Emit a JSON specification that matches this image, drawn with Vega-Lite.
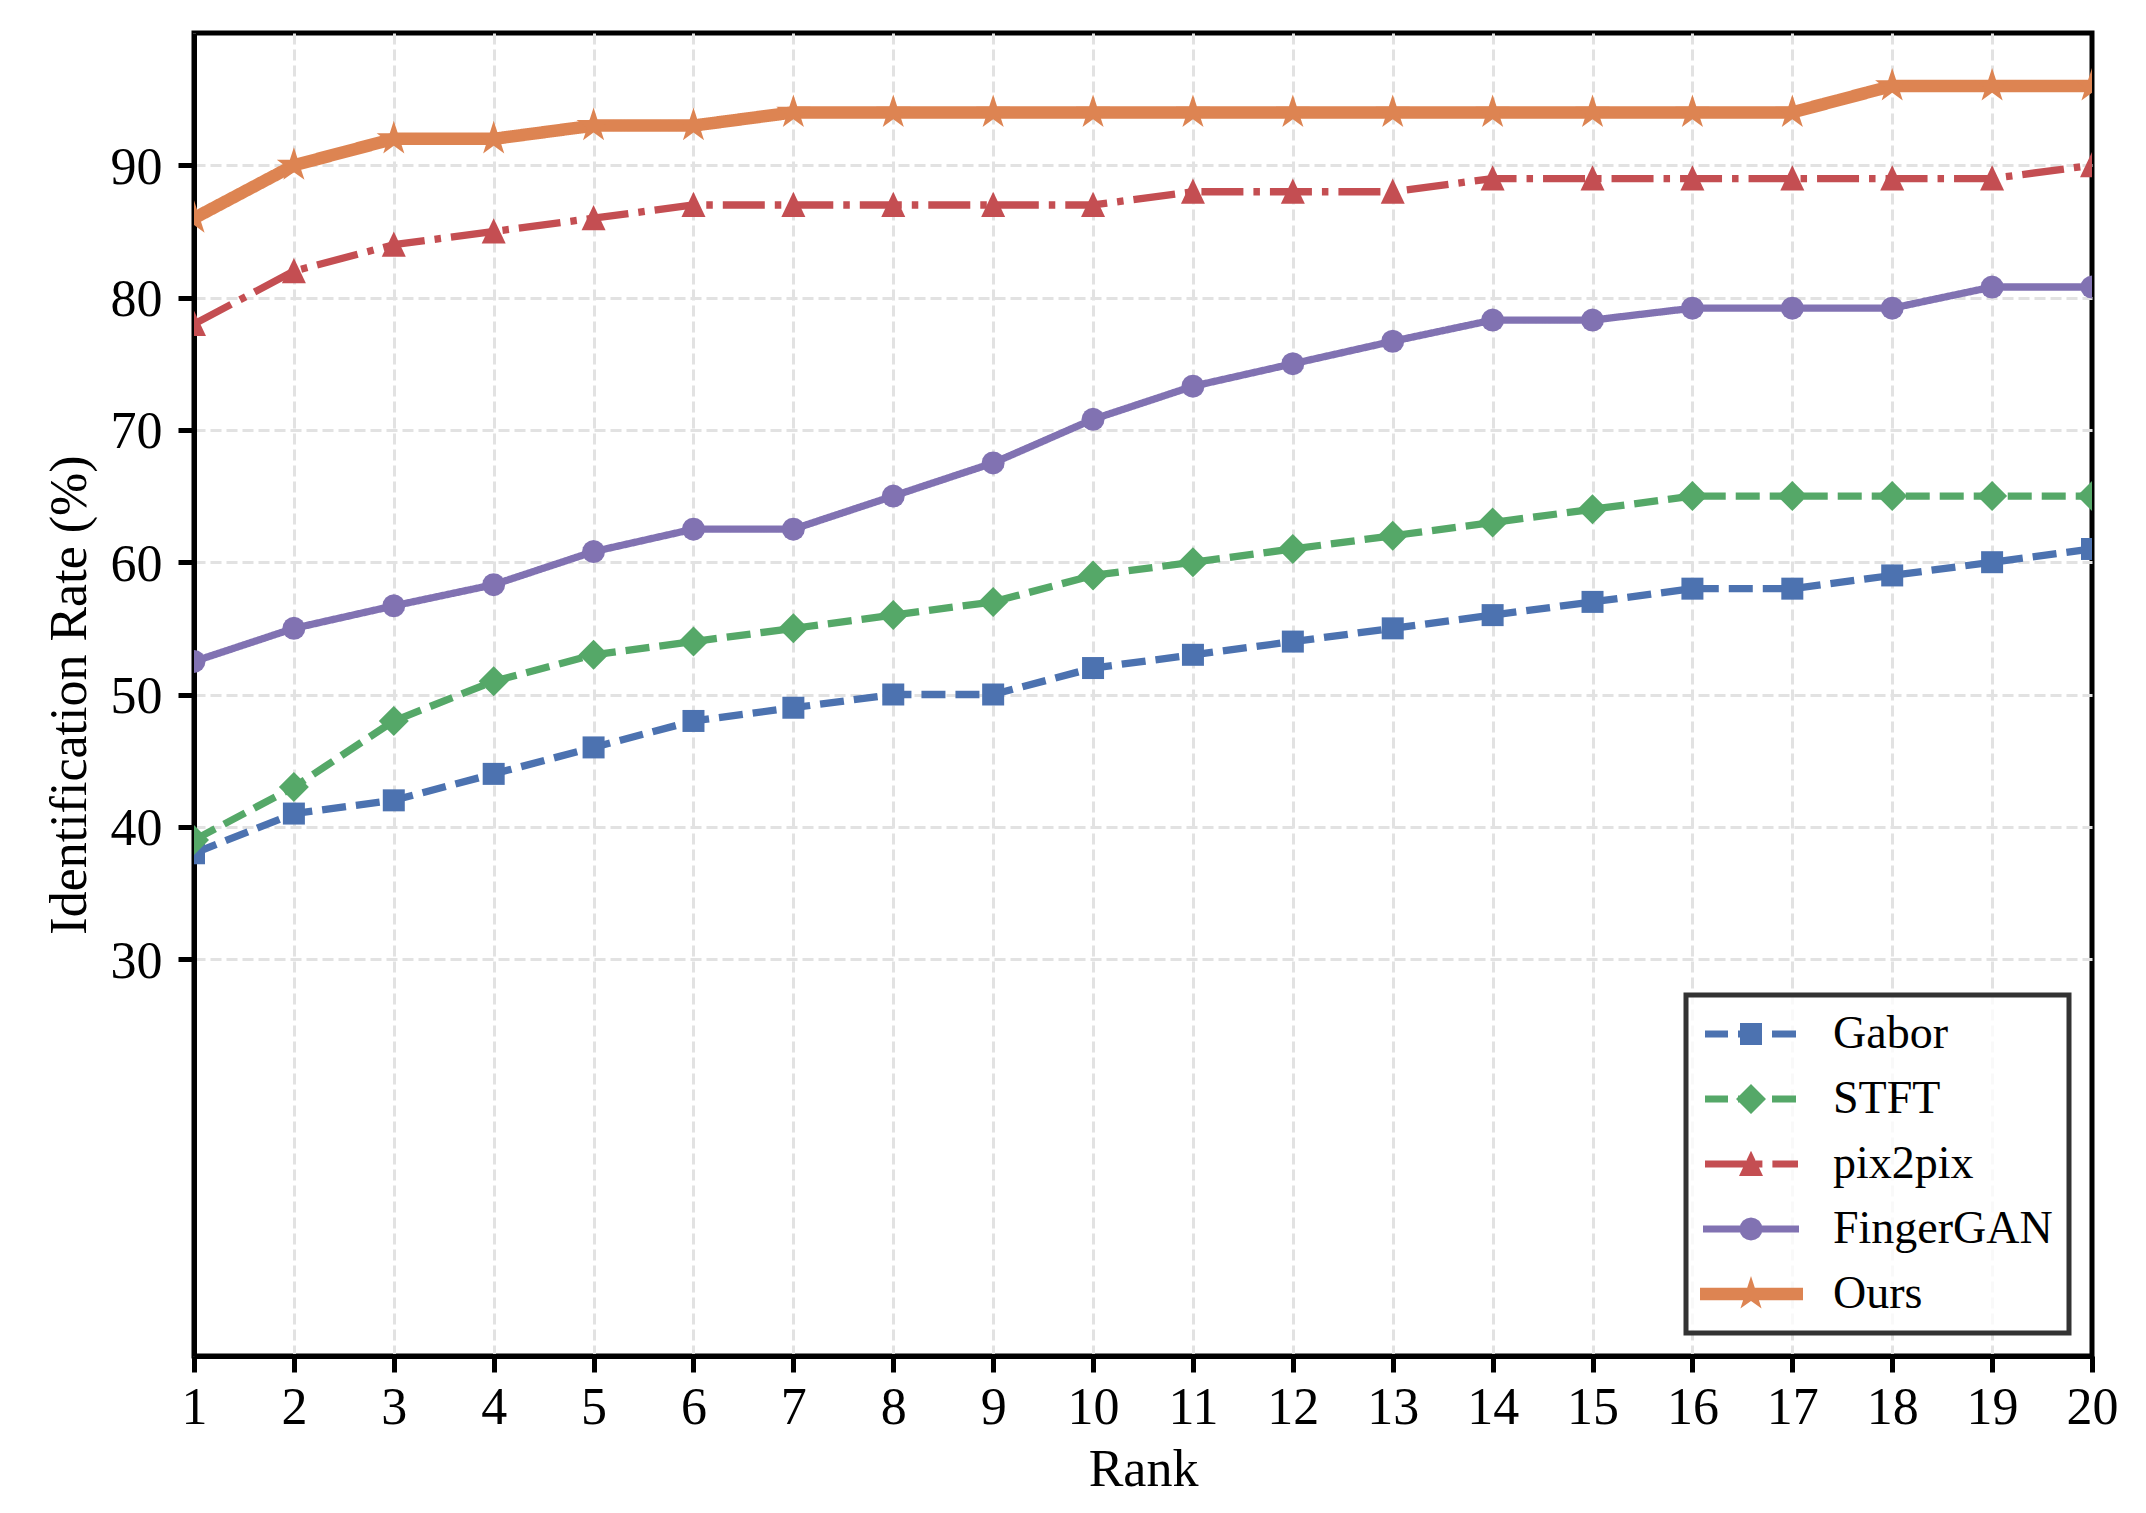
{
  "$schema": "https://vega.github.io/schema/vega-lite/v6.json",
  "autosize": {"type": "none"},
  "width": 1898,
  "height": 1323,
  "padding": {"left": 194, "top": 33, "right": 54, "bottom": 157},
  "background": "white",
  "data": {
    "values": [
      {"rank": 1, "method": "Gabor", "rate": 38}, {"rank": 2, "method": "Gabor", "rate": 41},
      {"rank": 3, "method": "Gabor", "rate": 42}, {"rank": 4, "method": "Gabor", "rate": 44},
      {"rank": 5, "method": "Gabor", "rate": 46}, {"rank": 6, "method": "Gabor", "rate": 48},
      {"rank": 7, "method": "Gabor", "rate": 49}, {"rank": 8, "method": "Gabor", "rate": 50},
      {"rank": 9, "method": "Gabor", "rate": 50}, {"rank": 10, "method": "Gabor", "rate": 52},
      {"rank": 11, "method": "Gabor", "rate": 53}, {"rank": 12, "method": "Gabor", "rate": 54},
      {"rank": 13, "method": "Gabor", "rate": 55}, {"rank": 14, "method": "Gabor", "rate": 56},
      {"rank": 15, "method": "Gabor", "rate": 57}, {"rank": 16, "method": "Gabor", "rate": 58},
      {"rank": 17, "method": "Gabor", "rate": 58}, {"rank": 18, "method": "Gabor", "rate": 59},
      {"rank": 19, "method": "Gabor", "rate": 60}, {"rank": 20, "method": "Gabor", "rate": 61},

      {"rank": 1, "method": "STFT", "rate": 39}, {"rank": 2, "method": "STFT", "rate": 43},
      {"rank": 3, "method": "STFT", "rate": 48}, {"rank": 4, "method": "STFT", "rate": 51},
      {"rank": 5, "method": "STFT", "rate": 53}, {"rank": 6, "method": "STFT", "rate": 54},
      {"rank": 7, "method": "STFT", "rate": 55}, {"rank": 8, "method": "STFT", "rate": 56},
      {"rank": 9, "method": "STFT", "rate": 57}, {"rank": 10, "method": "STFT", "rate": 59},
      {"rank": 11, "method": "STFT", "rate": 60}, {"rank": 12, "method": "STFT", "rate": 61},
      {"rank": 13, "method": "STFT", "rate": 62}, {"rank": 14, "method": "STFT", "rate": 63},
      {"rank": 15, "method": "STFT", "rate": 64}, {"rank": 16, "method": "STFT", "rate": 65},
      {"rank": 17, "method": "STFT", "rate": 65}, {"rank": 18, "method": "STFT", "rate": 65},
      {"rank": 19, "method": "STFT", "rate": 65}, {"rank": 20, "method": "STFT", "rate": 65},

      {"rank": 1, "method": "pix2pix", "rate": 78}, {"rank": 2, "method": "pix2pix", "rate": 82},
      {"rank": 3, "method": "pix2pix", "rate": 84}, {"rank": 4, "method": "pix2pix", "rate": 85},
      {"rank": 5, "method": "pix2pix", "rate": 86}, {"rank": 6, "method": "pix2pix", "rate": 87},
      {"rank": 7, "method": "pix2pix", "rate": 87}, {"rank": 8, "method": "pix2pix", "rate": 87},
      {"rank": 9, "method": "pix2pix", "rate": 87}, {"rank": 10, "method": "pix2pix", "rate": 87},
      {"rank": 11, "method": "pix2pix", "rate": 88}, {"rank": 12, "method": "pix2pix", "rate": 88},
      {"rank": 13, "method": "pix2pix", "rate": 88}, {"rank": 14, "method": "pix2pix", "rate": 89},
      {"rank": 15, "method": "pix2pix", "rate": 89}, {"rank": 16, "method": "pix2pix", "rate": 89},
      {"rank": 17, "method": "pix2pix", "rate": 89}, {"rank": 18, "method": "pix2pix", "rate": 89},
      {"rank": 19, "method": "pix2pix", "rate": 89}, {"rank": 20, "method": "pix2pix", "rate": 90},

      {"rank": 1, "method": "FingerGAN", "rate": 52.5}, {"rank": 2, "method": "FingerGAN", "rate": 55},
      {"rank": 3, "method": "FingerGAN", "rate": 56.7}, {"rank": 4, "method": "FingerGAN", "rate": 58.3},
      {"rank": 5, "method": "FingerGAN", "rate": 60.8}, {"rank": 6, "method": "FingerGAN", "rate": 62.5},
      {"rank": 7, "method": "FingerGAN", "rate": 62.5}, {"rank": 8, "method": "FingerGAN", "rate": 65},
      {"rank": 9, "method": "FingerGAN", "rate": 67.5}, {"rank": 10, "method": "FingerGAN", "rate": 70.8},
      {"rank": 11, "method": "FingerGAN", "rate": 73.3}, {"rank": 12, "method": "FingerGAN", "rate": 75},
      {"rank": 13, "method": "FingerGAN", "rate": 76.7}, {"rank": 14, "method": "FingerGAN", "rate": 78.3},
      {"rank": 15, "method": "FingerGAN", "rate": 78.3}, {"rank": 16, "method": "FingerGAN", "rate": 79.2},
      {"rank": 17, "method": "FingerGAN", "rate": 79.2}, {"rank": 18, "method": "FingerGAN", "rate": 79.2},
      {"rank": 19, "method": "FingerGAN", "rate": 80.8}, {"rank": 20, "method": "FingerGAN", "rate": 80.8},

      {"rank": 1, "method": "Ours", "rate": 86}, {"rank": 2, "method": "Ours", "rate": 90},
      {"rank": 3, "method": "Ours", "rate": 92}, {"rank": 4, "method": "Ours", "rate": 92},
      {"rank": 5, "method": "Ours", "rate": 93}, {"rank": 6, "method": "Ours", "rate": 93},
      {"rank": 7, "method": "Ours", "rate": 94}, {"rank": 8, "method": "Ours", "rate": 94},
      {"rank": 9, "method": "Ours", "rate": 94}, {"rank": 10, "method": "Ours", "rate": 94},
      {"rank": 11, "method": "Ours", "rate": 94}, {"rank": 12, "method": "Ours", "rate": 94},
      {"rank": 13, "method": "Ours", "rate": 94}, {"rank": 14, "method": "Ours", "rate": 94},
      {"rank": 15, "method": "Ours", "rate": 94}, {"rank": 16, "method": "Ours", "rate": 94},
      {"rank": 17, "method": "Ours", "rate": 94}, {"rank": 18, "method": "Ours", "rate": 96},
      {"rank": 19, "method": "Ours", "rate": 96}, {"rank": 20, "method": "Ours", "rate": 96}
    ]
  },
  "encoding": {
    "x": {
      "field": "rank",
      "type": "quantitative",
      "scale": {"domain": [1, 20], "nice": false, "zero": false},
      "axis": {
        "title": "Rank",
        "values": [1, 2, 3, 4, 5, 6, 7, 8, 9, 10, 11, 12, 13, 14, 15, 16, 17, 18, 19, 20],
        "format": "d",
        "labelBaseline": "alphabetic",
        "labelPadding": 51,
        "titleY": 129,
        "titleBaseline": "alphabetic",
        "gridOpacity": {"condition": {"test": "datum.value === 20", "value": 0}, "value": 1}
      }
    },
    "y": {
      "field": "rate",
      "type": "quantitative",
      "scale": {"domain": [0, 100], "nice": false},
      "axis": {
        "title": "Identification Rate (%)",
        "values": [30, 40, 50, 60, 70, 80, 90],
        "labelBaseline": "alphabetic",
        "labelOffset": 18,
        "labelPadding": 16,
        "titleX": -109,
        "titleBaseline": "alphabetic"
      }
    },
    "color": {
      "field": "method",
      "type": "nominal",
      "scale": {
        "domain": ["Gabor", "STFT", "pix2pix", "FingerGAN", "Ours"],
        "range": ["#4C72B0", "#55A868", "#C44E52", "#8172B2", "#DD8452"]
      },
      "legend": {
        "title": null,
        "orient": "bottom-right",
        "offset": 23,
        "padding": 16,
        "rowPadding": 19,
        "symbolSize": 1600,
        "symbolStrokeWidth": 0,
        "symbolOffset": 26,
        "labelOffset": 59,
        "labelFontSize": 46,
        "labelLimit": 0,
        "labelColor": "black",
        "strokeColor": "#333333",
        "fillColor": "rgba(255,255,255,0.8)",
        "encode": {
          "legend": {"update": {"strokeWidth": {"value": 5}}},
          "symbols": {
            "update": {
              "shape": {"signal": "datum.value === 'Gabor' ? 'M-2.3,-0.18H-1.15V0.18H-2.3Z M-0.65,-0.18H0.5V0.18H-0.65Z M1.05,-0.18H2.25V0.18H1.05Z M-0.55,-0.55H0.55V0.55H-0.55Z' : datum.value === 'STFT' ? 'M-2.3,-0.18H-1.15V0.18H-2.3Z M-0.65,-0.18H0.5V0.18H-0.65Z M1.05,-0.18H2.25V0.18H1.05Z M0,-0.75L0.75,0L0,0.75L-0.75,0Z' : datum.value === 'pix2pix' ? 'M-2.3,-0.18H-0.25V0.18H-2.3Z M0.25,-0.18H0.57V0.18H0.25Z M1.07,-0.18H2.35V0.18H1.07Z M0,-0.66L0.6,0.6L-0.6,0.6Z' : datum.value === 'FingerGAN' ? 'M-2.4,-0.18H2.4V0.18H-2.4Z M0.575,0L0.531,0.22L0.407,0.407L0.22,0.531L0,0.575L-0.22,0.531L-0.407,0.407L-0.531,0.22L-0.575,0L-0.531,-0.22L-0.407,-0.407L-0.22,-0.531L0,-0.575L0.22,-0.531L0.407,-0.407L0.531,-0.22Z' : 'M-2.55,-0.31H2.6V0.31H-2.55Z M0,-0.9L0.202,-0.278L0.856,-0.278L0.327,0.106L0.529,0.728L0,0.344L-0.529,0.728L-0.327,0.106L-0.856,-0.278L-0.202,-0.278Z'"},
              "strokeWidth": {"value": 0}
            }
          }
        }
      }
    }
  },
  "layer": [
    {
      "mark": {"type": "line", "clip": true, "strokeJoin": "round"},
      "encoding": {
        "strokeDash": {
          "field": "method",
          "type": "nominal",
          "scale": {
            "domain": ["Gabor", "STFT", "pix2pix", "FingerGAN", "Ours"],
            "range": [[24, 10], [24, 10], [42, 10, 6.5, 10], [1, 0], [1, 0]]
          },
          "legend": null
        },
        "strokeWidth": {
          "condition": {"test": "datum.method === 'Ours'", "value": 12.5},
          "value": 7.3
        }
      }
    },
    {
      "transform": [{"filter": "datum.method === 'Gabor'"}],
      "mark": {"type": "point", "clip": true, "filled": true, "opacity": 1, "strokeWidth": 0, "size": 1600,
               "shape": "M-0.55,-0.55H0.55V0.55H-0.55Z"}
    },
    {
      "transform": [{"filter": "datum.method === 'STFT'"}],
      "mark": {"type": "point", "clip": true, "filled": true, "opacity": 1, "strokeWidth": 0, "size": 1600,
               "shape": "M0,-0.75L0.75,0L0,0.75L-0.75,0Z"}
    },
    {
      "transform": [{"filter": "datum.method === 'pix2pix'"}],
      "mark": {"type": "point", "clip": true, "filled": true, "opacity": 1, "strokeWidth": 0, "size": 1600,
               "shape": "M0,-0.66L0.6,0.6L-0.6,0.6Z"}
    },
    {
      "transform": [{"filter": "datum.method === 'FingerGAN'"}],
      "mark": {"type": "point", "clip": true, "filled": true, "opacity": 1, "strokeWidth": 0, "size": 1600,
               "shape": "M0.575,0L0.531,0.22L0.407,0.407L0.22,0.531L0,0.575L-0.22,0.531L-0.407,0.407L-0.531,0.22L-0.575,0L-0.531,-0.22L-0.407,-0.407L-0.22,-0.531L0,-0.575L0.22,-0.531L0.407,-0.407L0.531,-0.22Z"}
    },
    {
      "transform": [{"filter": "datum.method === 'Ours'"}],
      "mark": {"type": "point", "clip": true, "filled": true, "opacity": 1, "strokeWidth": 0, "size": 1600,
               "shape": "M0,-0.9L0.202,-0.278L0.856,-0.278L0.327,0.106L0.529,0.728L0,0.344L-0.529,0.728L-0.327,0.106L-0.856,-0.278L-0.202,-0.278Z"}
    }
  ],
  "config": {
    "font": "Liberation Serif",
    "view": {"stroke": "black", "strokeWidth": 5},
    "axis": {
      "labelFont": "Liberation Serif",
      "titleFont": "Liberation Serif",
      "labelFontSize": 52,
      "titleFontSize": 52,
      "titleFontWeight": "normal",
      "labelColor": "black",
      "titleColor": "black",
      "domainColor": "black",
      "domainWidth": 5,
      "tickColor": "black",
      "tickWidth": 5,
      "tickSize": 16,
      "grid": true,
      "gridColor": "#e2e2e2",
      "gridWidth": 3,
      "gridDash": [11, 5],
      "labelFlush": false,
      "labelOverlap": false
    },
    "legend": {
      "labelFont": "Liberation Serif"
    }
  }
}
